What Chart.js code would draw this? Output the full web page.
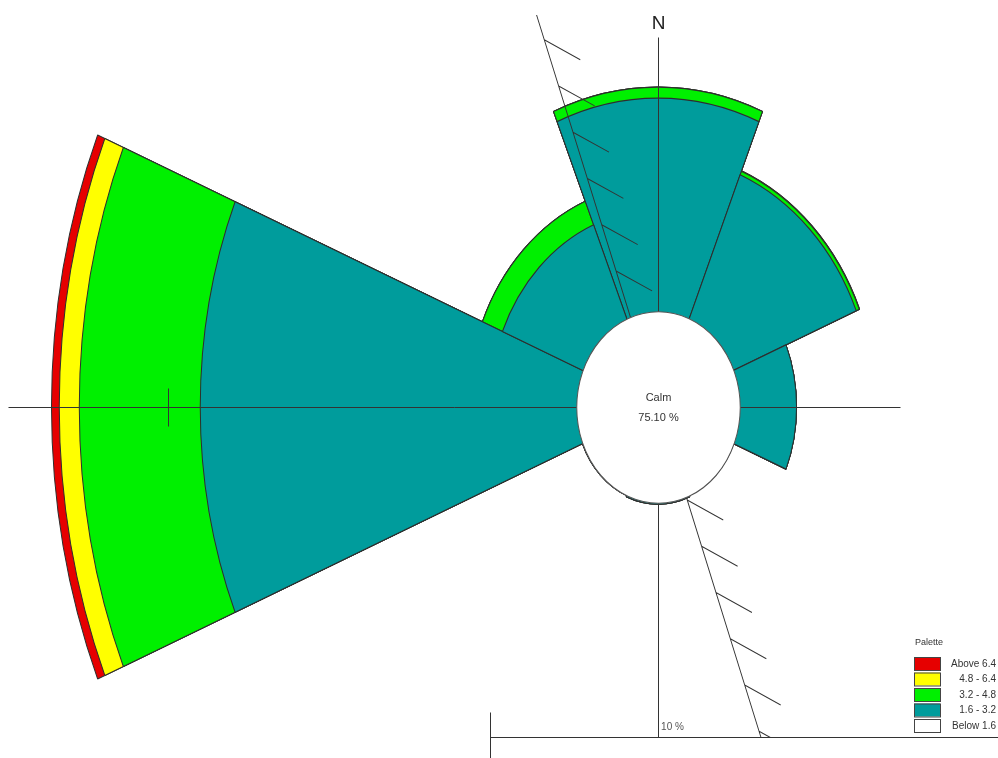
<!DOCTYPE html>
<html>
<head>
<meta charset="utf-8">
<title>Wind rose</title>
<script src="https://cdn.jsdelivr.net/npm/chart.js@4.4.1/dist/chart.umd.min.js"></script>
<style>
  html, body { margin: 0; padding: 0; background: #fff; }
  #rose { display: block; }
</style>
</head>
<body>
<canvas id="rose" width="998" height="758"></canvas>
<script>
// 8 direction sectors, 45 degrees each, clockwise from north
const directions = ['N', 'NE', 'E', 'SE', 'S', 'SW', 'W', 'NW']

// frequency (%) of each wind speed class per direction
const speed16to32 = [4.45, 3.25, 1.39, 0, 0.03, 0, 9.2, 2.12]
const speed32to48 = [0.23, 0.08, 0, 0, 0, 0, 2.96, 0.53]
const speed48to64 = [0, 0.01, 0, 0, 0, 0, 0.49, 0]
const speedAbove64 = [0, 0, 0, 0, 0, 0, 0.19, 0]

const speedClasses = ['1.6 - 3.2', '3.2 - 4.8', '4.8 - 6.4', 'Above 6.4']
const classColors = ['#009c9c', '#00f000', '#ffff00', '#e60000']

const legendLabels = ['Above 6.4', '4.8 - 6.4', '3.2 - 4.8', '1.6 - 3.2', 'Below 1.6']
const legendColors = ['#e60000', '#ffff00', '#00f000', '#009c9c', '#ffffff']

const calmPercent = 75.1
const scaleStep = 10

const FONT = 'Arial, "Liberation Sans", sans-serif'
const LINE = '#333'
const stretchY = 95.5 / 81.5 // the rose is drawn taller than wide

// petals are stacked: each class is drawn out to its cumulative total
const bands = [speed16to32, speed32to48, speed48to64, speedAbove64]
const cumulative = []
bands.forEach((band, i) => {
  cumulative.push(band.map((v, j) => v + (i > 0 ? cumulative[i - 1][j] : 0)))
})

const datasets = cumulative.map((values, i) => ({
  label: speedClasses[i],
  data: values,
  backgroundColor: classColors[i],
  borderColor: '#2e2e2e',
  borderWidth: 1,
  clip: false,
}))

const roseCanvas = document.getElementById('rose')
const ctx = roseCanvas.getContext('2d')

const stretchPlugin = {
  id: 'stretch',
  beforeDatasetsDraw(chart) {
    const r = chart.scales.r
    chart.ctx.save()
    chart.ctx.translate(r.xCenter, r.yCenter)
    chart.ctx.scale(1, stretchY)
    chart.ctx.translate(-r.xCenter, -r.yCenter)
  },
  afterDatasetsDraw(chart) {
    chart.ctx.restore()
  },
}

const overlayPlugin = {
  id: 'overlay',
  afterDraw(chart) {
    const c = chart.ctx
    const r = chart.scales.r
    const cx = r.xCenter + 0.5
    const cy = r.yCenter + 0.5
    const r0 = r.getDistanceFromCenterForValue(0)
    const barY = cy + 330

    c.save()
    c.strokeStyle = LINE
    c.lineWidth = 1

    // compass cross
    c.beginPath()
    c.moveTo(cx - 650, cy)
    c.lineTo(cx + 242, cy)
    c.moveTo(cx, cy - 370)
    c.lineTo(cx, barY)
    c.stroke()

    // tick on the west axis at the scale step
    const tx = Math.round(cx - r.getDistanceFromCenterForValue(scaleStep)) + 0.5
    c.beginPath()
    c.moveTo(tx, cy - 19)
    c.lineTo(tx, cy + 19)
    c.stroke()

    // hatched line through the site
    c.save()
    c.beginPath()
    c.rect(0, 15, chart.width, barY - 15)
    c.clip()
    c.translate(cx, cy)
    c.scale(1, stretchY)
    const b = 340 * Math.PI / 180
    const ux = Math.sin(b)
    const uy = -Math.cos(b)
    c.lineWidth = 0.9
    c.beginPath()
    ;[1, -1].forEach((dir) => {
      c.moveTo(dir * ux * r0, dir * uy * r0)
      c.lineTo(dir * ux * 420, dir * uy * 420)
      const first = dir > 0 ? 124 : 84
      for (let d = first; d < 360; d += 42) {
        const px = dir * ux * d
        const py = dir * uy * d
        c.moveTo(px, py)
        c.lineTo(px + 36, py + 17)
      }
    })
    c.stroke()

    // calm circle
    c.beginPath()
    c.arc(0, 0, r0, 0, Math.PI * 2)
    c.fillStyle = '#fff'
    c.fill()
    c.strokeStyle = '#555'
    c.lineWidth = 1
    c.stroke()
    c.restore()

    c.fillStyle = '#333'
    c.textAlign = 'center'
    c.textBaseline = 'middle'
    c.font = '11px ' + FONT
    c.fillText('Calm', cx, cy - 10)
    c.fillText(calmPercent.toFixed(2) + ' %', cx, cy + 10)

    c.font = '19px ' + FONT
    c.fillStyle = '#222'
    c.fillText('N', cx, cy - 384)

    // scale bar
    const barLeft = cx - 168
    c.beginPath()
    c.moveTo(barLeft, barY)
    c.lineTo(chart.width, barY)
    c.moveTo(barLeft, barY - 25)
    c.lineTo(barLeft, chart.height)
    c.stroke()
    c.font = '10px ' + FONT
    c.fillStyle = '#555'
    c.fillText(scaleStep + ' %', cx + 14, barY - 10)

    // palette
    const lx = 914
    let ly = 657
    c.textAlign = 'left'
    c.font = '9px ' + FONT
    c.fillStyle = '#333'
    c.fillText('Palette', lx + 1, 643)
    legendLabels.forEach((label, i) => {
      c.fillStyle = legendColors[i]
      c.fillRect(lx, ly, 26, 13)
      c.strokeStyle = '#444'
      c.strokeRect(lx + 0.5, ly + 0.5, 26, 13)
      c.fillStyle = '#333'
      c.textAlign = 'right'
      c.font = '10px ' + FONT
      c.fillText(label, 996, ly + 7)
      ly += 15.5
    })
    c.restore()
  },
}

const chart = new Chart(ctx, {
  type: 'polarArea',
  data: {
    labels: directions,
    datasets: datasets,
  },
  options: {
    responsive: false,
    animation: false,
    events: [],
    layout: {
      padding: { left: 318, right: 0, top: 56, bottom: 0 },
    },
    plugins: {
      legend: { display: false },
      tooltip: { enabled: false },
    },
    scales: {
      r: {
        min: -2,
        max: 6.319,
        beginAtZero: false,
        startAngle: -22.5,
        ticks: { display: false },
        grid: { display: false },
        angleLines: { display: false },
        pointLabels: { display: false },
      },
    },
  },
  plugins: [stretchPlugin, overlayPlugin],
})
</script>
</body>
</html>
